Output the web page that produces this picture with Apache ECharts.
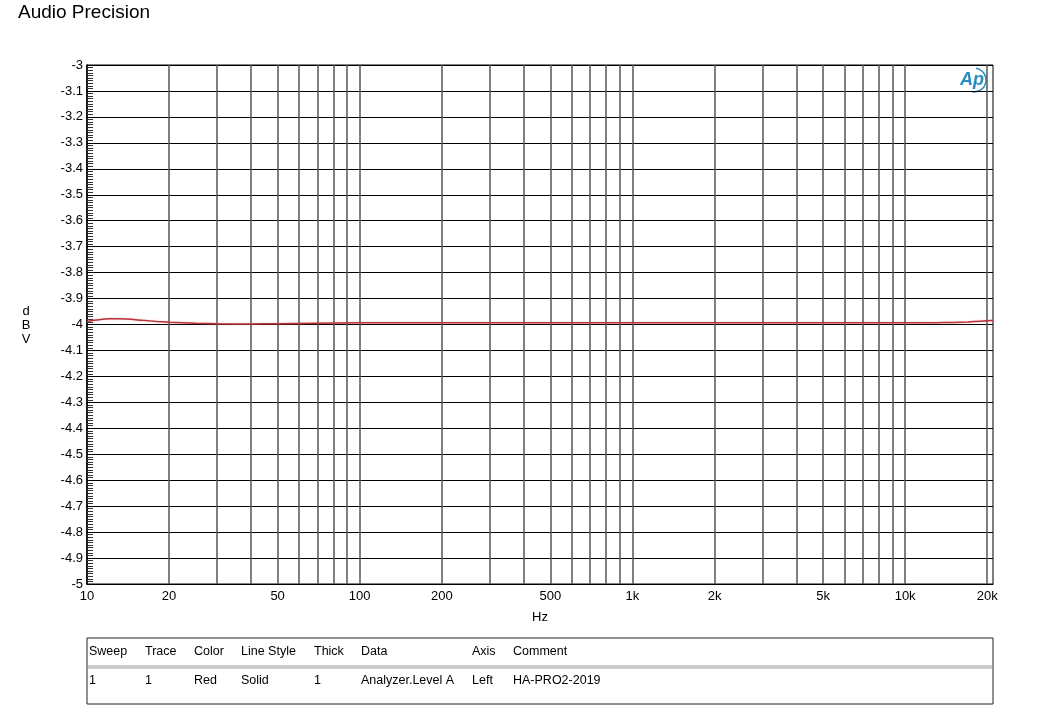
<!DOCTYPE html>
<html>
<head>
<meta charset="utf-8">
<script src="https://cdn.jsdelivr.net/npm/echarts@6/dist/echarts.min.js"></script>
<style>
html,body{margin:0;padding:0;background:#fff;}
#c{width:1056px;height:722px;}
</style>
</head>
<body>
<div id="c"></div>
<script>
// ---- data ----
const freqHz = [10, 11, 12, 13, 14, 16, 18, 20, 25, 30, 40, 50, 70, 100, 200, 500, 1000, 2000, 5000, 10000, 13000, 15000, 17000, 19000, 21000];
const levelDbv = [-3.988, -3.982, -3.978, -3.978, -3.979, -3.984, -3.988, -3.991, -3.995, -3.997, -3.998, -3.997, -3.995, -3.993, -3.993, -3.993, -3.993, -3.993, -3.993, -3.993, -3.993, -3.992, -3.990, -3.987, -3.985];
const gridFreqs = [10,20,30,40,50,60,70,80,90,100,200,300,400,500,600,700,800,900,1000,2000,3000,4000,5000,6000,7000,8000,9000,10000,20000];
const xTickLabels = [10,20,50,100,200,500,1000,2000,5000,10000,20000];
const tableHeader = ['Sweep','Trace','Color','Line Style','Thick','Data','Axis','Comment'];
const tableRow = ['1','1','Red','Solid','1','Analyzer.Level A','Left','HA-PRO2-2019'];
const tableColX = [89,145,194,241,314,361,472,513];

const FONT = 'Liberation Sans, Arial, sans-serif';
const chart = echarts.init(document.getElementById('c'), null, {renderer:'canvas'});

const graphics = [
  {type:'text', left:18, top:3, style:{text:'Audio Precision', fontSize:19, fontFamily:FONT, fill:'#000'}},
  {type:'text', x:26, y:325, style:{text:'d\nB\nV', fontSize:13, lineHeight:14, fontFamily:FONT, fill:'#000', align:'center', verticalAlign:'middle'}},
  // AP logo
  {type:'text', x:972, y:80, style:{text:'Ap', fontSize:18, fontStyle:'italic', fontWeight:'bold', fontFamily:FONT, fill:'#2a8cc0', align:'center', verticalAlign:'middle'}},
  {type:'arc', shape:{cx:974, cy:80, r:12, startAngle:-Math.PI*0.45, endAngle:Math.PI*0.55}, style:{stroke:'#2a8cc0', lineWidth:1.5, fill:null}},
  // table
  {type:'rect', shape:{x:87, y:638, width:906, height:66}, style:{fill:'none', stroke:'#222', lineWidth:1}},
  {type:'line', shape:{x1:87, y1:666, x2:993, y2:666}, style:{stroke:'#999', lineWidth:1}},
  {type:'line', shape:{x1:87, y1:668, x2:993, y2:668}, style:{stroke:'#999', lineWidth:1}}
];
tableHeader.forEach((t,i)=>graphics.push({type:'text', x:tableColX[i], y:652, style:{text:t, fontSize:12.5, fontFamily:FONT, fill:'#000', verticalAlign:'middle'}}));
tableRow.forEach((t,i)=>graphics.push({type:'text', x:tableColX[i], y:681, style:{text:t, fontSize:12.5, fontFamily:FONT, fill:'#000', verticalAlign:'middle'}}));

chart.setOption({
  animation:false,
  backgroundColor:'#fff',
  grid:{left:87, right:63, top:65, bottom:138, show:true, borderColor:'#000', borderWidth:1},
  xAxis:{
    type:'log', logBase:10, min:10, max:21000,
    name:'Hz', nameLocation:'middle', nameGap:27,
    nameTextStyle:{fontSize:13, fontFamily:FONT, color:'#000'},
    axisLine:{show:true, lineStyle:{color:'#000', width:1}},
    axisTick:{show:false, customValues:gridFreqs},
    axisLabel:{customValues:xTickLabels, color:'#000', fontSize:13, fontFamily:FONT, margin:6,
      formatter:v=> v>=1000 ? (Math.round(v/1000))+'k' : String(Math.round(v))},
    splitLine:{show:true, lineStyle:{color:'#555', width:1.5}},
    minorTick:{show:false}, minorSplitLine:{show:false}
  },
  yAxis:{
    type:'value', min:-5, max:-3, interval:0.1,
    axisLine:{show:true, lineStyle:{color:'#000', width:1.5}},
    axisTick:{show:true, inside:true, length:6, lineStyle:{color:'#000'}},
    minorTick:{show:true, splitNumber:10, length:6, lineStyle:{color:'#333'}},
    axisLabel:{color:'#000', fontSize:13, fontFamily:FONT, margin:4,
      formatter:v=> String(Math.round(v*10)/10)},
    splitLine:{show:true, lineStyle:{color:'#000', width:1}}
  },
  series:[{
    type:'line', showSymbol:false, smooth:0.2,
    data:freqHz.map((f,i)=>[f, levelDbv[i]]),
    lineStyle:{color:'#b8323a', width:1.5, shadowColor:'rgba(220,80,80,0.35)', shadowBlur:2},
    z:5
  }],
  graphic:graphics
});
</script>
</body>
</html>
